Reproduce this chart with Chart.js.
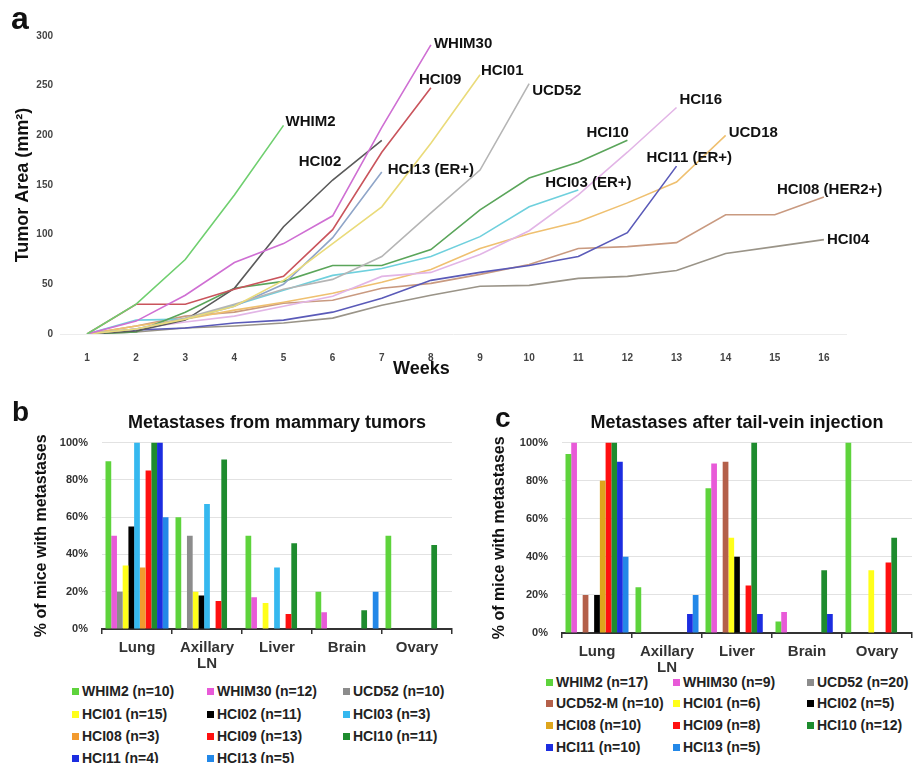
<!DOCTYPE html>
<html>
<head>
<meta charset="utf-8">
<script src="https://cdn.jsdelivr.net/npm/chart.js@4.4.1/dist/chart.umd.min.js"></script>
<style>
  body { margin: 0; background: #fff; font-family: "Liberation Sans", Arial, sans-serif; }
  #page { position: relative; width: 913px; height: 763px; overflow: hidden; }
  canvas { position: absolute; }
  .letter { position: absolute; font-weight: bold; font-size: 28px; line-height: 28px; color: #111; }
  .xtitle { position: absolute; font-weight: bold; font-size: 18px; line-height: 20px; color: #111; }
  .item { position: absolute; white-space: nowrap; font-weight: bold; font-size: 14px; line-height: 16px; color: #222; }
  .item i { display: inline-block; width: 7px; height: 7px; margin-right: 3px; vertical-align: 1px; }
</style>
</head>
<body>
<div id="page">
  <canvas id="growth" width="913" height="385" style="left:0px;top:0px"></canvas>
  <canvas id="mammary" width="460" height="275" style="left:0px;top:395px"></canvas>
  <canvas id="tail" width="453" height="279" style="left:460px;top:395px"></canvas>
  <div class="letter" style="left:11px;top:4px;font-size:32px">a</div>
  <div class="letter" style="left:12px;top:398px">b</div>
  <div class="letter" style="left:495px;top:404px">c</div>
  <div class="xtitle" style="left:393px;top:358px">Weeks</div>
  <div id="legends"></div>
</div>
<script>
// ---- panel a: tumor growth ----
const weeks = [1, 2, 3, 4, 5, 6, 7, 8, 9, 10, 11, 12, 13, 14, 15, 16];
const whim2 = [0, 30, 75, 140, 210];
const whim30 = [0, 13, 39, 72, 91, 119, 208, 291];
const hci09 = [0, 30, 30, 45, 58, 105, 183, 248];
const hci01 = [0, 5, 15, 28, 54, 91, 128, 192, 261];
const ucd52 = [0, 5, 16, 30, 45, 55, 78, 122, 165, 252];
const hci02 = [0, 3, 14, 46, 108, 155, 195];
const hci13 = [0, 5, 15, 28, 50, 97, 163];
const hci16 = [0, 5, 12, 18, 28, 38, 58, 62, 80, 104, 140, 183, 228];
const hci10 = [0, 2, 22, 46, 53, 69, 69, 85, 125, 157, 173, 195];
const hci03 = [0, 14, 15, 29, 44, 59, 66, 78, 98, 128, 145];
const hci11 = [0, 4, 6, 11, 14, 22, 36, 54, 62, 69, 78, 102, 169];
const ucd18 = [0, 8, 15, 24, 32, 41, 52, 65, 86, 101, 113, 132, 153, 200];
const hci08 = [0, 8, 18, 22, 31, 34, 46, 51, 60, 70, 86, 88, 92, 120, 120, 138];
const hci04 = [0, 2, 6, 8, 11, 16, 29, 39, 48, 49, 56, 58, 64, 81, 88, 95];

const growthNames = ["WHIM2", "WHIM30", "HCI09", "HCI01", "UCD52", "HCI02", "HCI13 (ER+)", "HCI16",
  "HCI10", "HCI03 (ER+)", "HCI11 (ER+)", "UCD18", "HCI08 (HER2+)", "HCI04"];
const growthSeries = [whim2, whim30, hci09, hci01, ucd52, hci02, hci13, hci16, hci10, hci03, hci11, ucd18, hci08, hci04];

// ---- panels b and c: metastases (% of mice) ----
const sites = ["Lung", ["Axillary", "LN"], "Liver", "Brain", "Ovary"];

const mammaryModels = ["WHIM2", "WHIM30", "UCD52", "HCI01", "HCI02", "HCI03", "HCI08", "HCI09", "HCI10", "HCI11", "HCI13"];
const mammaryCounts = [10, 12, 10, 15, 11, 3, 3, 13, 11, 4, 5];
const mammaryLung = [90, 50, 20, 34, 55, 100, 33, 85, 100, 100, 60];
const mammaryAxillary = [60, 0, 50, 20, 18, 67, 0, 15, 91, 0, 0];
const mammaryLiver = [50, 17, 0, 14, 0, 33, 0, 8, 46, 0, 0];
const mammaryBrain = [20, 9, 0, 0, 0, 0, 0, 0, 10, 0, 20];
const mammaryOvary = [50, 0, 0, 0, 0, 0, 0, 0, 45, 0, 0];

const tailModels = ["WHIM2", "WHIM30", "UCD52", "UCD52-M", "HCI01", "HCI02", "HCI08", "HCI09", "HCI10", "HCI11", "HCI13"];
const tailCounts = [17, 9, 20, 10, 6, 5, 10, 8, 12, 10, 5];
const tailLung = [94, 100, 0, 20, 0, 20, 80, 100, 100, 90, 40];
const tailAxillary = [24, 0, 0, 0, 0, 0, 0, 0, 0, 10, 20];
const tailLiver = [76, 89, 0, 90, 50, 40, 0, 25, 100, 10, 0];
const tailBrain = [6, 11, 0, 0, 0, 0, 0, 0, 33, 10, 0];
const tailOvary = [100, 0, 0, 0, 33, 0, 0, 37, 50, 0, 0];

// styles
const growthColors = ['#6fcf6f', '#cf6fd3', '#c9545c', '#eadb7a', '#b5b5b5', '#5a5a5a', '#8fa5c8', '#e2b5e6',
  '#5aa55a', '#6fd0dd', '#5a5ab8', '#efc070', '#c99a80', '#9a9488'];
// label position relative to last point of each line
const labelOffsets = [[2, -4], [3, -1], [-12, -8], [1, -4], [3, 7], [-83, 22], [6, -2], [3, -8],
  [-41, -7], [-33, -7], [-30, -8], [3, -2], [-47, -7], [3, 0]];
const mammaryColors = ['#5ed33c', '#e85ad8', '#8c8c8c', '#ffff1a', '#000000', '#35b8ef', '#f29a2e', '#ff1010', '#1e8c2e', '#1c2de0', '#2388e8'];
const tailColors = ['#5ed33c', '#e85ad8', '#8c8c8c', '#b4604a', '#ffff1a', '#000000', '#dea51c', '#ff1010', '#1e8c2e', '#1c2de0', '#2388e8'];

Chart.defaults.font.family = '"Liberation Sans", Arial, sans-serif';

const lineLabels = {
  id: 'lineLabels',
  afterDatasetsDraw(chart) {
    const ctx = chart.ctx;
    ctx.save();
    ctx.font = 'bold 15px "Liberation Sans", Arial, sans-serif';
    ctx.fillStyle = '#111';
    ctx.textBaseline = 'middle';
    chart.data.datasets.forEach((ds, i) => {
      const pts = chart.getDatasetMeta(i).data;
      const last = pts[pts.length - 1];
      ctx.fillText(ds.label, last.x + labelOffsets[i][0], last.y + labelOffsets[i][1]);
    });
    ctx.restore();
  }
};

new Chart(document.getElementById("growth"), {
  type: "line",
  data: {
    datasets: growthSeries.map((vals, i) => ({
      label: growthNames[i],
      data: vals.map((v, k) => ({ x: weeks[k], y: v })),
      borderColor: growthColors[i],
      borderWidth: 1.6,
      pointRadius: 0,
      tension: 0,
      fill: false
    }))
  },
  options: {
    responsive: false,
    animation: false,
    layout: { padding: { left: 0, right: 66, top: 36, bottom: 6 } },
    plugins: { legend: { display: false }, tooltip: { enabled: false } },
    scales: {
      x: {
        type: "linear", min: 0.45, max: 16.47,
        afterBuildTicks: s => { s.ticks = weeks.map(w => ({ value: w })); },
        grid: { display: false },
        border: { display: false },
        ticks: { font: { size: 10, weight: "bold" }, color: "#444", padding: 10 },
        afterFit: s => { s.height = 45; }
      },
      y: {
        min: 0, max: 300,
        ticks: { stepSize: 50, font: { size: 10, weight: "bold" }, color: "#444", padding: 7 },
        grid: { color: c => c.tick.value === 0 ? "#ececec" : "rgba(0,0,0,0)", drawTicks: false },
        border: { display: false },
        title: { display: true, text: "Tumor Area (mm²)", font: { size: 18, weight: "bold" }, color: "#111", padding: { top: 12, bottom: 0 } },
        afterFit: s => { s.width = 60; }
      }
    }
  },
  plugins: [lineLabels]
});

function metastasisChart(id, title, models, colors, siteValues, padRight, titlePad) {
  return new Chart(document.getElementById(id), {
    type: "bar",
    data: {
      labels: sites,
      datasets: models.map((m, i) => ({
        label: m,
        data: siteValues.map(site => site[i]),
        backgroundColor: colors[i],
        categoryPercentage: 0.9,
        barPercentage: 1.0
      }))
    },
    options: {
      responsive: false,
      animation: false,
      layout: { padding: { left: 0, right: padRight, top: 0, bottom: 0 } },
      plugins: {
        legend: { display: false },
        tooltip: { enabled: false },
        title: { display: true, text: title, fullSize: false, font: { size: 18, weight: "bold" }, color: "#111", padding: { top: 17, bottom: 9 } }
      },
      scales: {
        x: {
          grid: { display: true, offset: true, drawOnChartArea: false, drawTicks: true, tickLength: 5, color: "#333", lineWidth: 1.5 },
          border: { display: true, color: "#333", width: 2 },
          ticks: { font: { size: 15, weight: "bold", lineHeight: 1.05 }, color: "#333", padding: 6, maxRotation: 0, autoSkip: false },
          afterFit: s => { s.height = 41; }
        },
        y: {
          min: 0, max: 100,
          ticks: { stepSize: 20, callback: v => v + "%", font: { size: 11, weight: "bold" }, color: "#333", padding: 14 },
          grid: { color: "#e2e2e2", drawTicks: false },
          border: { display: false },
          title: { display: true, text: "% of mice with metastases", font: { size: 16, weight: "bold" }, color: "#111", padding: { top: titlePad, bottom: 0 } },
          afterFit: s => { s.width = 102; }
        }
      }
    }
  });
}

metastasisChart("mammary", "Metastases from mammary tumors", mammaryModels, mammaryColors,
  [mammaryLung, mammaryAxillary, mammaryLiver, mammaryBrain, mammaryOvary], 8, 32);
metastasisChart("tail", "Metastases after tail-vein injection", tailModels, tailColors,
  [tailLung, tailAxillary, tailLiver, tailBrain, tailOvary], 1, 30);

function buildLegend(names, counts, colors, cols, rows) {
  const holder = document.getElementById("legends");
  names.forEach((name, i) => {
    const item = document.createElement("span");
    item.className = "item";
    item.style.left = cols[i % 3] + "px";
    item.style.top = (rows[Math.floor(i / 3)] - 8) + "px";
    item.innerHTML = '<i style="background:' + colors[i] + '"></i>' + name + " (n=" + counts[i] + ")";
    holder.appendChild(item);
  });
}
buildLegend(mammaryModels, mammaryCounts, mammaryColors, [72, 207, 343], [691, 714, 736, 758]);
buildLegend(tailModels, tailCounts, tailColors, [546, 673, 807], [682, 703, 725, 747]);
</script>
</body>
</html>
